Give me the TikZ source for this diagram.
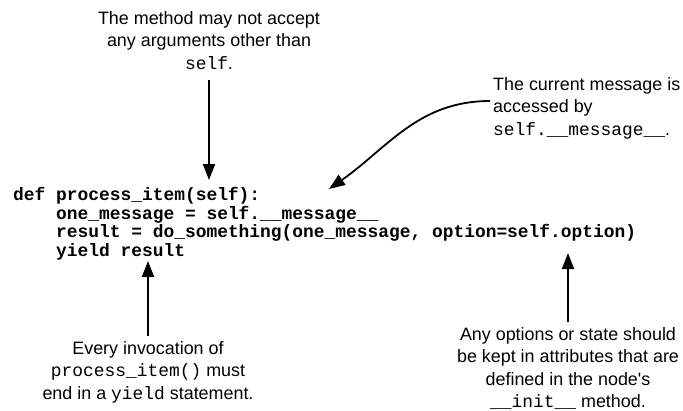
\documentclass[tikz,border=0pt]{standalone}
\usepackage{fontspec}
\setmainfont{Liberation Sans}
\setmonofont{Liberation Mono}
\usetikzlibrary{arrows.meta}
\tikzset{
  lbl/.style={inner sep=0pt, font=\fontsize{17.9}{22.5}\selectfont},
  code/.style={inner sep=0pt, align=left, font=\fontsize{17.9}{18.67}\selectfont\ttfamily\bfseries},
  arr/.style={line width=1.8pt, -{Triangle[length=16pt,width=12pt]}}
}
\begin{document}
\begin{tikzpicture}[x=1pt,y=-1pt]
\useasboundingbox (0,0) rectangle (683,410);
% code
\node[code, anchor=north west] (code) at (13,187) {def process\_item(self):\\
\phantom{xxxx}one\_message = self.\_\_message\_\_\\
\phantom{xxxx}result = do\_something(one\_message, option=self.option)\\
\phantom{xxxx}yield result};
% labels
\node[lbl, align=center, anchor=north] (top) at (209,11) {The method may not accept\\any arguments other than\\\texttt{self}.};
\node[lbl, align=left, anchor=north west] (msg) at (493,77) {The current message is\\accessed by\\\texttt{self.\_\_message\_\_}.};
\node[lbl, align=center, anchor=north] (yld) at (148,341) {Every invocation of\\\texttt{process\_item()} must\\end in a \texttt{yield} statement.};
\node[lbl, align=center, anchor=north] (opt) at (568,327) {Any options or state should\\be kept in attributes that are\\defined in the node\textquotesingle s\\\texttt{\_\_init\_\_} method.};
% arrow endpoints
\coordinate (t1) at (209,80);
\coordinate (t2) at (209,180);
\coordinate (m1) at (490,101);
\coordinate (m2) at (329,189);
\coordinate (y1) at (148,336);
\coordinate (y2) at (148,261);
\coordinate (o1) at (568,322);
\coordinate (o2) at (568,253);
\draw[arr] (t1) -- (t2);
\draw[arr] (m1) to[out=180,in=35] (m2);
\draw[arr] (y1) -- (y2);
\draw[arr] (o1) -- (o2);
\end{tikzpicture}
\end{document}
